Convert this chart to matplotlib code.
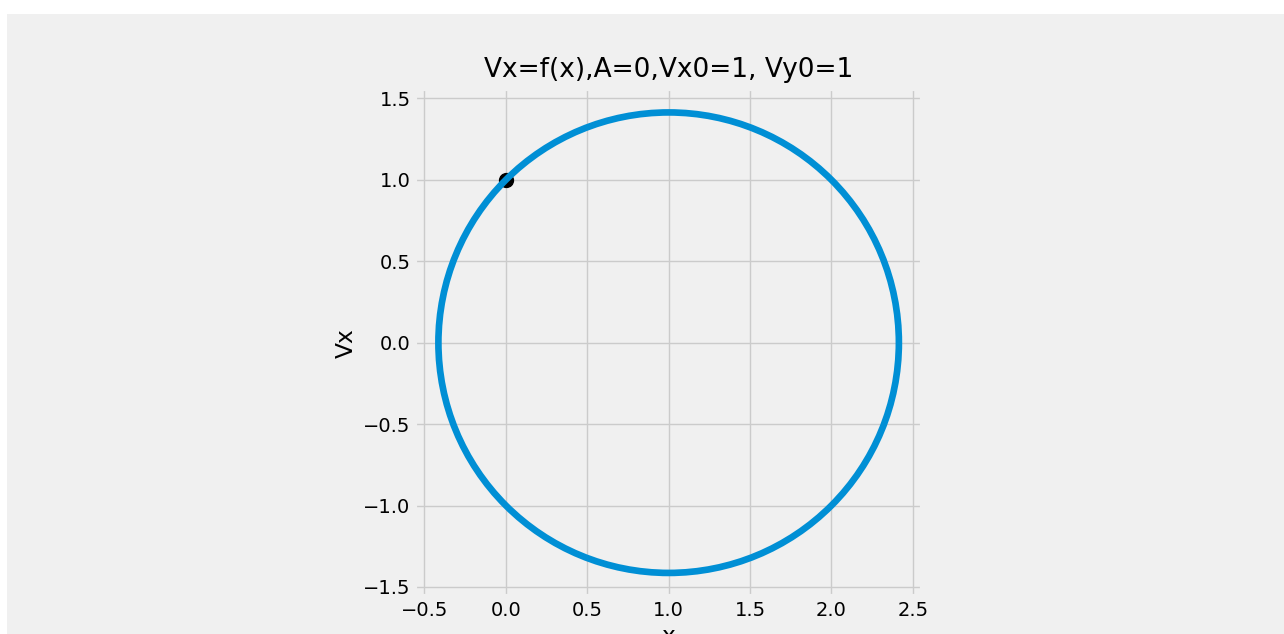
import matplotlib
matplotlib.use('Agg')
import matplotlib.pyplot as plt
from matplotlib.patches import Circle, Rectangle

# phase portrait: Vx against x, A=0, Vx0=1, Vy0=1
center_x = 1.0
center_vx = 0.0
radius = 1.414
start_x = [0.0]
start_vx = [1.0]

plt.style.use('fivethirtyeight')

fig = plt.figure(figsize=(12.84, 6.34), dpi=100)
fig.patch.set_facecolor('white')
# grey canvas, the picture has a thin white strip at top and left
fig.patches.append(Rectangle((7 / 1284, 0), 1, (634 - 14) / 634,
                             transform=fig.transFigure, facecolor='#f0f0f0',
                             edgecolor='none', zorder=-10))

ax = fig.add_axes([0.3235, 0.0585, 0.3945, 0.802])
ax.plot(start_x, start_vx, 'o', color='black', markersize=10, zorder=2)
ax.add_patch(Circle((center_x, center_vx), radius, fill=False,
                    edgecolor='#008fd5', linewidth=4.8, zorder=3))
ax.autoscale_view()
ax.set_aspect('equal')

ax.set_title('Vx=f(x),A=0,Vx0=1, Vy0=1', fontsize=19, pad=9)
ax.set_xlabel('x')
ax.set_ylabel('Vx')

fig.savefig('out.png', dpi=100, facecolor=fig.get_facecolor())
